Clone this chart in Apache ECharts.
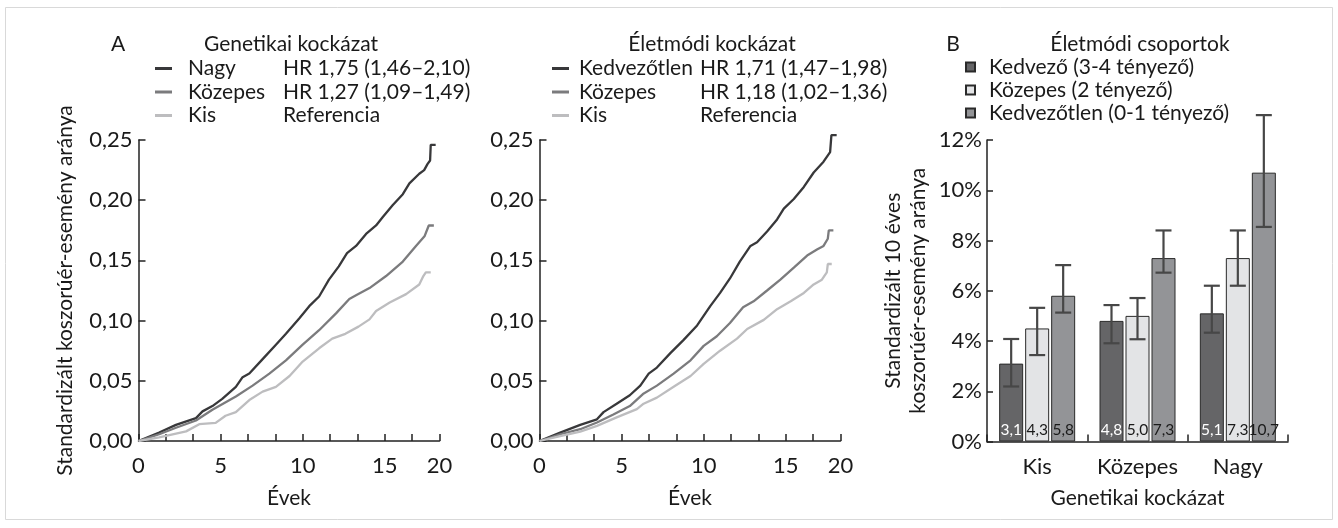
<!DOCTYPE html>
<html><head><meta charset="utf-8">
<script src="https://cdn.jsdelivr.net/npm/echarts@6/dist/echarts.min.js"></script>
<style>html,body{margin:0;padding:0;background:#fff}#c{width:1338px;height:528px}</style>
</head><body><div id="c"></div>
<script>
// ---------- Panel A (left): genetic risk, cumulative incidence ----------
const genNagyYears = [0,1.26,2.28,3.5,3.9,4.5,5.1,5.93,6.34,6.75,7.56,8.37,8.98,9.8,10.4,11.0,11.6,12.2,12.7,13.25,13.86,14.47,14.88,15.49,16.1,16.5,17.1,17.4,17.6,17.76,17.8,18.1];
const genNagyRate  = [0,0.007,0.0134,0.019,0.0246,0.029,0.035,0.045,0.053,0.056,0.068,0.080,0.089,0.102,0.112,0.120,0.134,0.145,0.156,0.162,0.172,0.179,0.186,0.196,0.205,0.214,0.222,0.225,0.230,0.233,0.246,0.246];
const genKozepesYears = [0,1.26,2.28,3.5,4.5,5.93,6.95,7.97,8.98,10.0,11.0,12.03,12.84,13.25,14.07,15.08,16.1,16.9,17.42,17.68,17.99];
const genKozepesRate  = [0,0.0056,0.011,0.017,0.026,0.037,0.046,0.056,0.067,0.080,0.092,0.106,0.118,0.121,0.127,0.137,0.149,0.162,0.170,0.179,0.179];
const genKisYears = [0,1.26,2.9,3.7,4.7,5.3,5.93,6.75,7.56,8.37,9.2,10.0,11.0,11.8,12.6,13.4,14.07,14.47,15.3,16.3,17.1,17.35,17.5,17.8];
const genKisRate  = [0,0.003,0.008,0.014,0.015,0.021,0.024,0.034,0.041,0.045,0.054,0.066,0.077,0.085,0.089,0.095,0.101,0.108,0.115,0.122,0.130,0.137,0.140,0.140];

// ---------- Panel A (middle): lifestyle risk ----------
const lifeKedvYears = [0,1.26,2.48,3.5,3.9,4.7,5.5,6.14,6.65,7.15,7.97,8.78,9.6,10.4,11.0,11.6,12.2,12.85,13.25,13.86,14.47,14.88,15.49,16.1,16.7,17.3,17.7,17.78,18.1];
const lifeKedvRate  = [0,0.007,0.0134,0.018,0.024,0.031,0.038,0.046,0.056,0.061,0.073,0.084,0.096,0.112,0.123,0.135,0.149,0.162,0.165,0.174,0.184,0.193,0.201,0.211,0.223,0.232,0.240,0.254,0.254];
const lifeKozepesYears = [0,1.26,2.48,3.5,4.5,5.5,6.3,7.15,8.17,9.2,10.0,10.8,11.6,12.4,13.04,13.86,14.67,15.49,16.3,16.9,17.3,17.56,17.62,17.9];
const lifeKozepesRate  = [0,0.0056,0.0098,0.0154,0.022,0.029,0.039,0.046,0.056,0.067,0.079,0.087,0.098,0.111,0.116,0.125,0.134,0.144,0.154,0.159,0.162,0.168,0.175,0.175];
const lifeKisYears = [0,1.26,2.48,3.5,4.7,5.93,6.34,7.15,8.17,9.2,10.0,11.0,12.03,12.65,13.66,14.47,15.3,16.1,16.7,17.2,17.5,17.56,17.8];
const lifeKisRate  = [0,0.004,0.0078,0.0126,0.0196,0.0265,0.031,0.036,0.045,0.054,0.064,0.075,0.085,0.093,0.1006,0.1095,0.116,0.123,0.130,0.134,0.140,0.147,0.147];

// legends of panel A
const genLegendNames = ['Nagy','Közepes','Kis'];
const genLegendHR    = ['HR 1,75 (1,46–2,10)','HR 1,27 (1,09–1,49)','Referencia'];
const lifeLegendNames = ['Kedvezőtlen','Közepes','Kis'];
const lifeLegendHR    = ['HR 1,71 (1,47–1,98)','HR 1,18 (1,02–1,36)','Referencia'];

// tick labels of panel A
const xTickLabels = ['0','','','5','','','10','','','15','','20'];
const yTickLabelsA = ['0,00','0,05','0,10','0,15','0,20','0,25'];

// ---------- Panel B: bars ----------
const groups = ['Kis','Közepes','Nagy'];
const barSeriesNames = ['Kedvező (3-4 tényező)','Közepes (2 tényező)','Kedvezőtlen (0-1 tényező)'];
const kedvezoVals = [3.1,4.8,5.1];
const kedvezoLow  = [2.19,3.91,4.33];
const kedvezoHigh = [4.08,5.43,6.2];
const kedvezoLabels = ['3,1','4,8','5,1'];
const kozepesVals = [4.5,5.0,7.3];
const kozepesLow  = [3.44,4.07,6.2];
const kozepesHigh = [5.32,5.71,8.4];
const kozepesLabels = ['4,3','5,0','7,3'];
const kedvtlenVals = [5.8,7.3,10.7];
const kedvtlenLow  = [5.13,6.72,8.54];
const kedvtlenHigh = [7.02,8.4,12.99];
const kedvtlenLabels = ['5,8','7,3','10,7'];
const yTickLabelsB = ['0%','2%','4%','6%','8%','10%','12%'];

// ---------- styling ----------
const FONT = 'Lato';
const TXT = '#1a1a1a';
const AX = '#222';
const C_DARK = '#38383a', C_MID = '#7b7b7d', C_LIGHT = '#bdbdbf';
const B_DARK = '#656567', B_LIGHT = '#e3e4e6', B_MID = '#939497';
const X_STEP = 5/3;
const BAR_W = 24, BAR_GAP_PX = 2;
const TICK_FS = 22;

const chart = echarts.init(document.getElementById('c'), null, {renderer:'canvas'});

function zip(xs, ys){ return xs.map((x,i)=>[x, ys[i]]); }

function lineAxisX(gi){
  return {
    type:'value', gridIndex:gi, min:0, max:11*X_STEP, interval:X_STEP,
    axisLine:{show:true, lineStyle:{color:AX, width:1.5}},
    axisTick:{show:true, inside:true, length:7, lineStyle:{color:AX, width:1.5}},
    splitLine:{show:false},
    axisLabel:{show:true, showMinLabel:true, showMaxLabel:true, hideOverlap:false, margin:14, fontFamily:FONT, fontSize:TICK_FS, color:TXT,
      formatter:v=>{const i=Math.round(v/X_STEP); return xTickLabels[i]!==undefined?xTickLabels[i]:'';}},
    name:'Évek', nameLocation:'middle', nameGap:47,
    nameTextStyle:{fontFamily:FONT, fontSize:21, color:TXT}
  };
}
function lineAxisY(gi, withName){
  const a = {
    type:'value', gridIndex:gi, min:0, max:0.25, interval:0.05,
    axisLine:{show:true, lineStyle:{color:AX, width:1.5}},
    axisTick:{show:true, inside:true, length:7, lineStyle:{color:AX, width:1.5}},
    splitLine:{show:false},
    axisLabel:{margin:6, fontFamily:FONT, fontSize:TICK_FS, color:TXT,
      formatter:v=>{const i=Math.round(v/0.05); return yTickLabelsA[i]!==undefined?yTickLabelsA[i]:'';}}
  };
  if(withName){
    a.name='Standardizált koszorúér-esemény aránya'; a.nameLocation='middle'; a.nameGap=63;
    a.nameTextStyle={fontFamily:FONT, fontSize:21, color:TXT};
  }
  return a;
}
function lineSeries(name, xs, ys, color, gi){
  return {type:'line', name, xAxisIndex:gi, yAxisIndex:gi, data:zip(xs,ys),
    showSymbol:false, symbol:'none', clip:false, lineStyle:{color, width:2.3}, itemStyle:{color}};
}
function legendFor(prefix, names, hrs, left, top, colW, pad){
  const map = {};
  names.forEach((n,i)=>{ map[prefix+n] = [n, hrs[i]]; });
  return {
    data: names.map(n=>prefix+n), orient:'vertical', left, top, itemGap:2.5,
    icon:'rect', itemWidth:17, itemHeight:3, selectedMode:false, padding:0,
    formatter: nm => `{n|${map[nm][0]}}{h|${map[nm][1]}}`,
    textStyle:{fontFamily:FONT, fontSize:21, color:TXT,
      rich:{ n:{width:colW, padding:[0,0,0,pad], fontFamily:FONT, fontSize:21, color:TXT, lineHeight:24},
             h:{fontFamily:FONT, fontSize:21, color:TXT, lineHeight:24} } }
  };
}

function errSeries(idx, lows, highs){
  const offset = (idx-1)*(BAR_W+BAR_GAP_PX);
  return {
    type:'custom', xAxisIndex:2, yAxisIndex:2, z:5, clip:false, silent:true,
    data: groups.map((g,i)=>[i, lows[i], highs[i]]),
    renderItem:(params, api)=>{
      const c = api.value(0);
      const lo = api.coord([c, api.value(1)]);
      const hi = api.coord([c, api.value(2)]);
      const x = lo[0] + offset, hw = 8;
      const st = {stroke:'#474747', lineWidth:2.2};
      return {type:'group', children:[
        {type:'line', shape:{x1:x, y1:lo[1], x2:x, y2:hi[1]}, style:st},
        {type:'line', shape:{x1:x-hw, y1:lo[1], x2:x+hw, y2:lo[1]}, style:st},
        {type:'line', shape:{x1:x-hw, y1:hi[1], x2:x+hw, y2:hi[1]}, style:st}
      ]};
    }
  };
}
function barSeries(name, vals, labels, color, labelColor){
  return {type:'bar', name, xAxisIndex:2, yAxisIndex:2, data:vals, barWidth:BAR_W, barGap:(BAR_GAP_PX/BAR_W*100)+'%',
    itemStyle:{color, borderColor:'#2a2a2a', borderWidth:1},
    label:{show:true, position:'insideBottom', distance:4, fontFamily:FONT, fontSize:15.5, color:labelColor,
      formatter:p=>labels[p.dataIndex]}};
}

const option = {
  animation:false,
  backgroundColor:'#fff',
  grid:[
    {left:138.5, top:140, width:301, height:301},
    {left:539.5, top:140, width:301, height:301},
    {left:987, top:140, width:301, height:301.5}
  ],
  xAxis:[
    lineAxisX(0), lineAxisX(1),
    {type:'category', gridIndex:2, data:groups,
      axisLine:{show:true, lineStyle:{color:AX, width:1.5}},
      axisTick:{show:true, inside:true, length:7, alignWithLabel:false, interval:0, lineStyle:{color:AX, width:1.5}},
      axisLabel:{interval:0, hideOverlap:false, margin:14, fontFamily:FONT, fontSize:TICK_FS, color:TXT},
      name:'Genetikai kockázat', nameLocation:'middle', nameGap:46,
      nameTextStyle:{fontFamily:FONT, fontSize:21, color:TXT}}
  ],
  yAxis:[
    lineAxisY(0, true), lineAxisY(1, false),
    {type:'value', gridIndex:2, min:0, max:12, interval:2,
      axisLine:{show:true, lineStyle:{color:AX, width:1.5}},
      axisTick:{show:true, inside:true, length:6, lineStyle:{color:AX, width:1.5}},
      splitLine:{show:false},
      axisLabel:{margin:5, fontFamily:FONT, fontSize:TICK_FS, color:TXT,
        formatter:v=>{const i=Math.round(v/2); return yTickLabelsB[i]!==undefined?yTickLabelsB[i]:'';}},
      name:'Standardizált 10 éves\nkoszorúér-esemény aránya', nameLocation:'middle', nameGap:56,
      nameTextStyle:{fontFamily:FONT, fontSize:21, color:TXT, lineHeight:25, align:'center'}}
  ],
  legend:[
    legendFor('A1:', genLegendNames, genLegendHR, 155, 58, 95, 11),
    legendFor('A2:', lifeLegendNames, lifeLegendHR, 552, 58, 121, 5),
    {data:barSeriesNames, orient:'vertical', left:965, top:55.5, itemGap:0, icon:'rect', itemWidth:9, itemHeight:9,
      selectedMode:false, padding:0,
      textStyle:{fontFamily:FONT, fontSize:21, color:TXT, lineHeight:23, padding:[0,0,0,9]}}
  ],
  series:[
    lineSeries('A1:Nagy', genNagyYears, genNagyRate, C_DARK, 0),
    lineSeries('A1:Közepes', genKozepesYears, genKozepesRate, C_MID, 0),
    lineSeries('A1:Kis', genKisYears, genKisRate, C_LIGHT, 0),
    lineSeries('A2:Kedvezőtlen', lifeKedvYears, lifeKedvRate, C_DARK, 1),
    lineSeries('A2:Közepes', lifeKozepesYears, lifeKozepesRate, C_MID, 1),
    lineSeries('A2:Kis', lifeKisYears, lifeKisRate, C_LIGHT, 1),
    barSeries(barSeriesNames[0], kedvezoVals, kedvezoLabels, B_DARK, '#ffffff'),
    barSeries(barSeriesNames[1], kozepesVals, kozepesLabels, B_LIGHT, '#1a1a1a'),
    barSeries(barSeriesNames[2], kedvtlenVals, kedvtlenLabels, B_MID, '#1a1a1a'),
    errSeries(0, kedvezoLow, kedvezoHigh),
    errSeries(1, kozepesLow, kozepesHigh),
    errSeries(2, kedvtlenLow, kedvtlenHigh)
  ],
  graphic:[
    {type:'rect', shape:{x:5.5, y:7.5, width:1327, height:512}, style:{fill:'none', stroke:'#d9d9d9', lineWidth:1}, silent:true, z:-1},
    {type:'text', x:118, y:44, style:{text:'A', fontFamily:FONT, fontSize:21, fill:TXT, textAlign:'center', textVerticalAlign:'middle'}},
    {type:'text', x:291, y:44, style:{text:'Genetikai kockázat', fontFamily:FONT, fontSize:21, fill:TXT, textAlign:'center', textVerticalAlign:'middle'}},
    {type:'text', x:712, y:44, style:{text:'Életmódi kockázat', fontFamily:FONT, fontSize:21, fill:TXT, textAlign:'center', textVerticalAlign:'middle'}},
    {type:'text', x:953, y:44, style:{text:'B', fontFamily:FONT, fontSize:21, fill:TXT, textAlign:'center', textVerticalAlign:'middle'}},
    {type:'text', x:1140, y:44, style:{text:'Életmódi csoportok', fontFamily:FONT, fontSize:21, fill:TXT, textAlign:'center', textVerticalAlign:'middle'}}
  ]
};
chart.setOption(option);
</script>
</body></html>
